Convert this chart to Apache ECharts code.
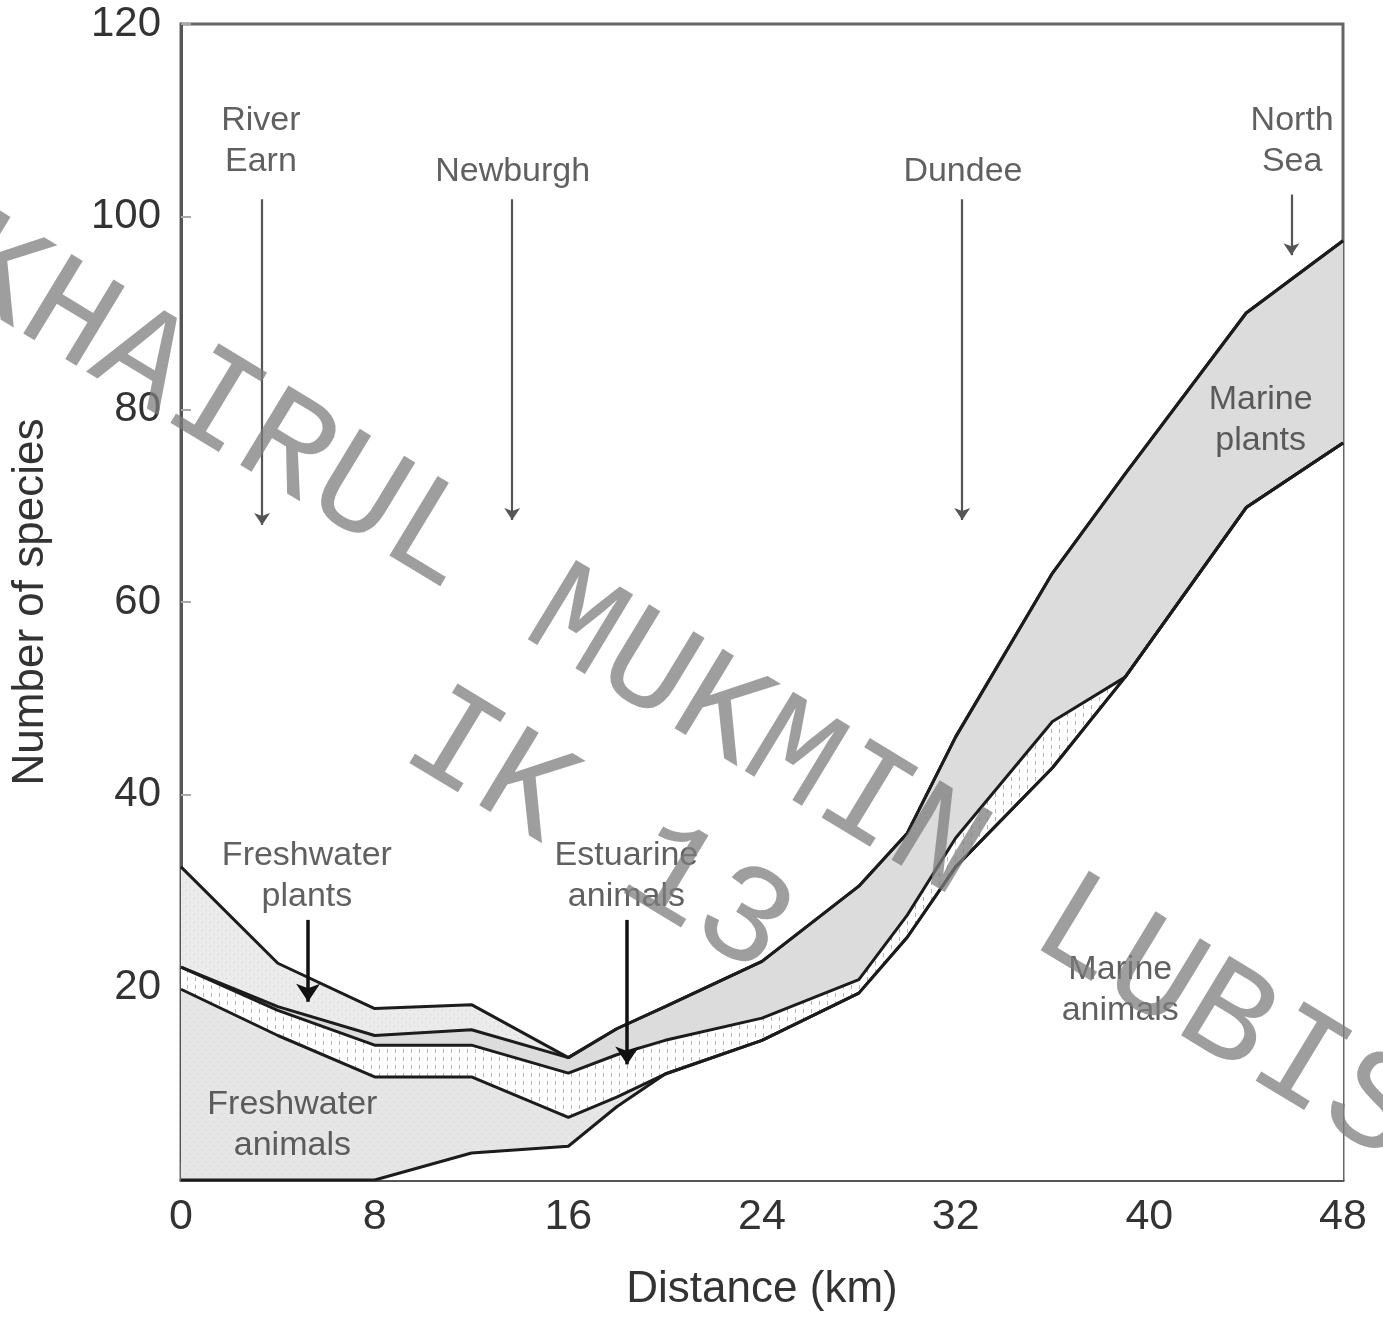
<!DOCTYPE html>
<html><head><meta charset="utf-8">
<script src="https://cdn.jsdelivr.net/npm/echarts@6/dist/echarts.min.js"></script>
<style>html,body{margin:0;padding:0;background:#fff}#c{width:1383px;height:1326px}</style>
</head><body><div id="c"></div>
<script>
// ---- data (number of species per group) ----
const distanceKm        = [0,    4,    8,    12,   16,   18,   20,   24,   28,   30,   32,   36,   39,   44,   48];
const marineAnimals     = [0,    0,    0,    2.8,  3.5,  7.6,  11.0, 14.5, 19.4, 25.2, 32.5, 42.8, 52.2, 69.8, 76.5];
const freshwaterAnimals = [19.8, 15.0, 10.7, 7.9,  3.0,  1.0,  0,    0,    0,    0,    0,    0,    0,    0,    0];
const estuarineAnimals  = [2.3,  2.6,  3.3,  3.3,  4.6,  4.4,  3.5,  2.3,  1.4,  2.3,  3.0,  4.8,  0,    0,    0];
const marinePlants      = [0,    0.4,  1.0,  1.6,  1.6,  2.7,  3.5,  5.9,  9.7,  8.5,  10.5, 15.4, 21.1, 20.2, 21.0];
const freshwaterPlants  = [10.4, 4.5,  2.8,  2.6,  0,    0,    0,    0,    0,    0,    0,    0,    0,    0,    0];

// place / group annotations (data coordinates)
const textNotes = [
  {name: 'River\nEarn', x: 3.3, y: 107.8},
  {name: 'Newburgh', x: 13.7, y: 104.7},
  {name: 'Dundee', x: 32.3, y: 104.7},
  {name: 'North\nSea', x: 45.9, y: 107.8},
  {name: 'Marine\nplants', x: 44.6, y: 78.9},
  {name: 'Freshwater\nplants', x: 5.2, y: 31.5},
  {name: 'Estuarine\nanimals', x: 18.4, y: 31.5},
  {name: 'Freshwater\nanimals', x: 4.6, y: 5.7},
  {name: 'Marine\nanimals', x: 38.8, y: 19.7}
];
// arrows: [x, yFrom, yTo]
const placeArrows = [[3.35, 101.8, 68.0], [13.68, 101.8, 68.5], [32.27, 101.8, 68.5], [45.87, 102.3, 96.0]];
const groupArrows = [[5.25, 27.0, 18.5], [18.43, 27.0, 12.0]];

// ---- build stacked boundaries ----
const layers = [marineAnimals, freshwaterAnimals, estuarineAnimals, marinePlants, freshwaterPlants];
const bounds = [];
let run = distanceKm.map(() => 0);
layers.forEach(l => { run = run.map((v, i) => +(v + l[i]).toFixed(2)); bounds.push(run.slice()); });
const pts = b => distanceKm.map((x, i) => [x, b[i]]);

function pattern(bg, fg, draw) {
  const c = document.createElement('canvas'); c.width = 8; c.height = 8;
  const g = c.getContext('2d'); g.fillStyle = bg; g.fillRect(0, 0, 8, 8);
  g.fillStyle = fg; draw(g); return c;
}
const estPat = pattern('#ffffff', '#b5b5b5', g => { g.fillRect(3, 1, 1, 4); });
const fpPat = pattern('#ebebeb', '#d0d0d0', g => { g.fillRect(2, 2, 1, 1); g.fillRect(6, 6, 1, 1); });
const faPat = pattern('#e6e6e6', '#d2d2d2', g => { g.fillRect(1, 5, 1, 1); g.fillRect(5, 1, 1, 1); });

const fills = [
  {b: 4, color: {image: fpPat, repeat: 'repeat'}},
  {b: 3, color: '#dcdcdc'},
  {b: 2, color: {image: estPat, repeat: 'repeat'}},
  {b: 1, color: {image: faPat, repeat: 'repeat'}},
  {b: 0, color: '#ffffff'}
];

const series = [];
fills.forEach(f => series.push({
  type: 'line', data: pts(bounds[f.b]), symbol: 'none', z: 2,
  lineStyle: {width: 0, opacity: 0}, areaStyle: {color: f.color, opacity: 1, origin: 'start'}
}));
bounds.forEach(b => series.push({
  type: 'line', data: pts(b), symbol: 'none', z: 4,
  lineStyle: {color: '#1c1c1c', width: 3}
}));
const font = 'Liberation Sans';
series.push({
  type: 'scatter', z: 6, symbolSize: 1, itemStyle: {color: 'rgba(0,0,0,0)'},
  data: textNotes.map(t => ({name: t.name, value: [t.x, t.y]})),
  label: {show: true, position: 'inside', formatter: '{b}', fontFamily: font, fontSize: 34,
          lineHeight: 41, color: '#383838', align: 'center'},
  markLine: {
    silent: true, animation: false, symbol: ['none', 'arrow'], symbolSize: 12,
    label: {show: false}, lineStyle: {color: '#555', width: 2.2, type: 'solid'},
    data: placeArrows.map(a => [{coord: [a[0], a[1]]}, {coord: [a[0], a[2]]}])
  }
});
series.push({
  type: 'scatter', z: 6, symbolSize: 0, data: [],
  markLine: {
    silent: true, animation: false, symbol: ['none', 'arrow'], symbolSize: 18,
    label: {show: false}, lineStyle: {color: '#111', width: 3.5, type: 'solid'},
    data: groupArrows.map(a => [{coord: [a[0], a[1]]}, {coord: [a[0], a[2]]}])
  }
});

const chart = echarts.init(document.getElementById('c'), null, {renderer: 'canvas'});
chart.setOption({
  animation: false,
  backgroundColor: '#ffffff',
  grid: {left: 181, right: 40, top: 24, bottom: 146, show: true, borderColor: '#666', borderWidth: 3},
  xAxis: {
    type: 'value', min: 0, max: 48, interval: 8,
    name: 'Distance (km)', nameLocation: 'middle', nameGap: 88,
    nameTextStyle: {fontFamily: font, fontSize: 44, color: '#333'},
    axisLine: {lineStyle: {color: '#555', width: 3}},
    axisTick: {inside: true, length: 18, lineStyle: {color: '#666', width: 2}},
    minorTick: {show: true, splitNumber: 2, length: 18, lineStyle: {color: '#666', width: 2}},
    splitLine: {show: false},
    axisLabel: {fontFamily: font, fontSize: 43, color: '#333', margin: 16}
  },
  yAxis: {
    type: 'value', min: 0, max: 120, interval: 20,
    name: 'Number of species', nameLocation: 'middle', nameGap: 128, nameRotate: 90,
    nameTextStyle: {fontFamily: font, fontSize: 44, color: '#333'},
    axisLine: {lineStyle: {color: '#555', width: 3}},
    axisTick: {inside: true, length: 10, lineStyle: {color: '#aaa', width: 2}},
    splitLine: {show: false},
    axisLabel: {fontFamily: font, fontSize: 42, color: '#333', margin: 20, showMinLabel: false}
  },
  series: series,
  graphic: [{
    type: 'text', x: 641, y: 762, rotation: -0.545, z: 100,
    style: {text: 'KHAIRUL MUKMIN LUBIS\nIK 13', font: '141px "Liberation Mono"', fill: 'rgba(125,125,125,0.75)',
            align: 'center', verticalAlign: 'middle', lineHeight: 167}
  }]
});
</script></body></html>
